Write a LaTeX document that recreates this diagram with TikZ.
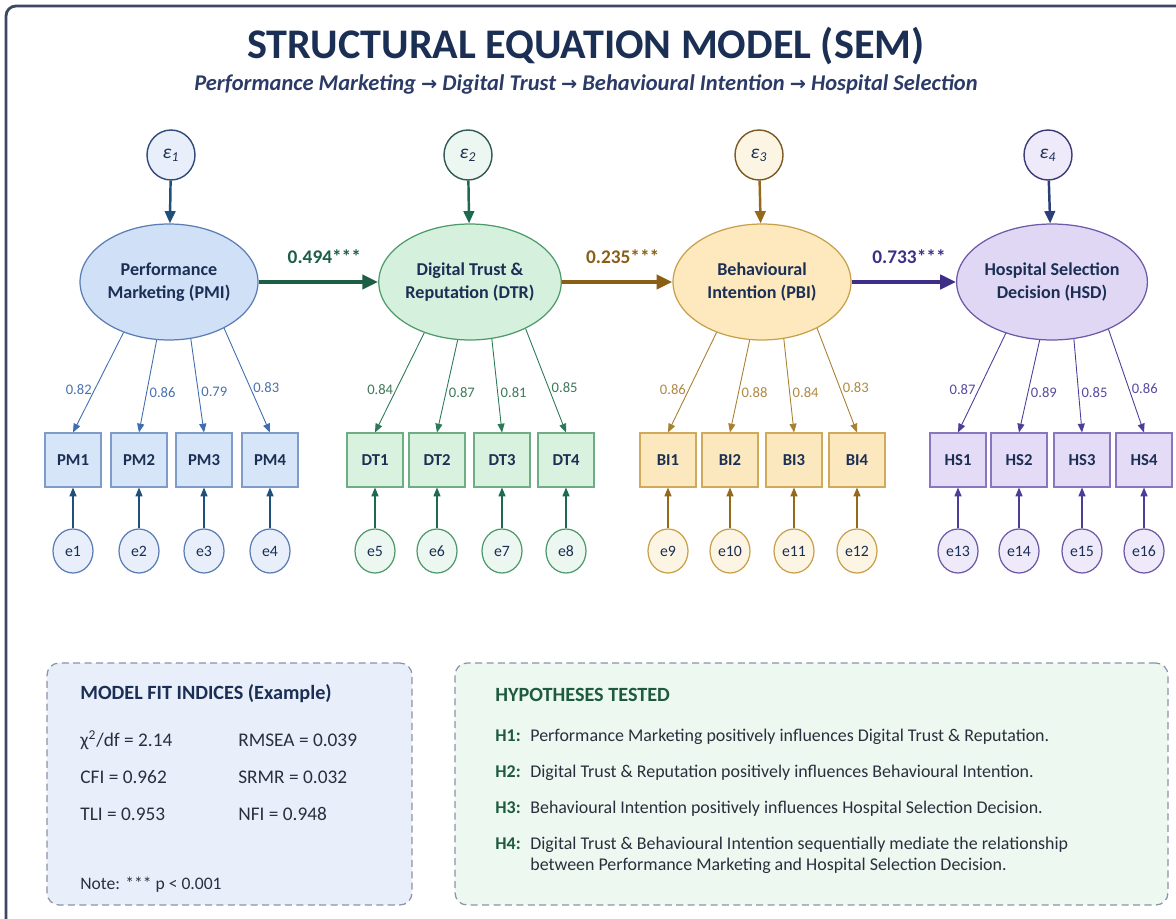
\documentclass[tikz,border=0pt]{standalone}
\usepackage{fontspec}
\setmainfont{Carlito}
\newfontfamily\arrowfont{DejaVu Sans}
\usetikzlibrary{arrows.meta,shapes.geometric}
\definecolor{navy}{HTML}{1B2F55}
\definecolor{subnavy}{HTML}{2B3A66}
\definecolor{frame}{HTML}{3D4663}
\definecolor{txt}{HTML}{2B2F3D}
% blue
\definecolor{bfill}{HTML}{CFE0F7}
\definecolor{bline}{HTML}{5A7DB5}
\definecolor{bbox}{HTML}{D7E5F8}
\definecolor{bboxl}{HTML}{7F9CC9}
\definecolor{barr}{HTML}{1F4F7A}
\definecolor{bload}{HTML}{3F6DB0}
\definecolor{blab}{HTML}{4A72B0}
\definecolor{bdist}{HTML}{2F4A7A}
\definecolor{bdistf}{HTML}{E8EFFA}
% green
\definecolor{gfill}{HTML}{D5F0DC}
\definecolor{gline}{HTML}{4F9A6A}
\definecolor{gbox}{HTML}{D8F2DF}
\definecolor{gboxl}{HTML}{6FAE85}
\definecolor{garr}{HTML}{1D6A50}
\definecolor{gload}{HTML}{2C7A55}
\definecolor{glab}{HTML}{3C7A58}
\definecolor{gstr}{HTML}{1D5E45}
\definecolor{gdist}{HTML}{2F5A55}
\definecolor{gdistf}{HTML}{EDF7F1}
% yellow
\definecolor{yfill}{HTML}{FDE9BD}
\definecolor{yline}{HTML}{C9A04A}
\definecolor{ybox}{HTML}{FCE8BF}
\definecolor{yboxl}{HTML}{D0AA5A}
\definecolor{yarr}{HTML}{94691C}
\definecolor{yload}{HTML}{A88030}
\definecolor{ylab}{HTML}{B08A45}
\definecolor{ystr}{HTML}{8A5E14}
\definecolor{ydist}{HTML}{7A5A20}
\definecolor{ydistf}{HTML}{FDF5E4}
% purple
\definecolor{pfill}{HTML}{E0D7F5}
\definecolor{pline}{HTML}{6E58A8}
\definecolor{pbox}{HTML}{E4DBF6}
\definecolor{pboxl}{HTML}{8A75C0}
\definecolor{parr}{HTML}{2A3F78}
\definecolor{pload}{HTML}{4E3C99}
\definecolor{plab}{HTML}{5A4AA0}
\definecolor{pstr}{HTML}{3E2E88}
\definecolor{pdist}{HTML}{3A3A78}
\definecolor{pdistf}{HTML}{EEEAF9}
% panels
\definecolor{fitfill}{HTML}{E8EFFB}
\definecolor{hypfill}{HTML}{ECF8F0}
\definecolor{dashc}{HTML}{8A93A8}
\definecolor{hgreen}{HTML}{1E5A3E}
\newcommand{\rarr}{{\arrowfont\fontsize{11}{12}\selectfont\char"2192}}
\begin{document}
\begin{tikzpicture}[x=0.02cm,y=-0.02cm,
  lat/.style={ellipse, draw, line width=0.7pt, minimum width=3.56cm, minimum height=2.32cm, inner sep=0pt, align=center, text=navy, font=\bfseries\fontsize{10.3}{13}\selectfont},
  ind/.style={rectangle, draw, line width=0.6pt, minimum width=1.12cm, minimum height=1.08cm, inner sep=0pt, text=navy, font=\bfseries\fontsize{9.5}{11}\selectfont},
  err/.style={ellipse, draw, line width=0.7pt, minimum width=0.8cm, minimum height=0.88cm, inner sep=0pt, text=navy, font=\fontsize{9}{10}\selectfont},
  dist/.style={ellipse, draw, line width=0.8pt, minimum width=0.96cm, minimum height=1.0cm, inner sep=0pt, text=navy, font=\itshape\fontsize{11}{12}\selectfont},
  load/.style={-{Triangle[length=5pt,width=4pt]}, line width=0.5pt},
  ldlab/.style={font=\fontsize{8.3}{9}\selectfont, inner sep=1.5pt},
  struct/.style={-{Triangle[length=9pt,width=8pt]}, line width=2.2pt},
  strlab/.style={font=\bfseries\fontsize{11}{12}\selectfont, above=6pt, pos=0.55},
  distarr/.style={-{Triangle[length=7pt,width=6pt]}, line width=1.4pt},
  errarr/.style={-{Triangle[length=5pt,width=4pt]}, line width=0.7pt},
  panel/.style={draw=dashc, dashed, dash pattern=on 4pt off 2.5pt, line width=0.7pt, rounded corners=0.24cm},
  ftxt/.style={anchor=west, inner sep=0pt, text=txt, font=\fontsize{11}{13}\selectfont},
  htxt/.style={anchor=west, inner sep=0pt, text=txt, align=left, font=\fontsize{10.2}{12}\selectfont}
]
\useasboundingbox (0,0) rectangle (1176,919);
\fill[white] (0,0) rectangle (1176,919);
\begin{scope}
\clip (0,0) rectangle (1176,919);
\draw[frame, line width=1.6pt, rounded corners=0.2cm] (6,6) rectangle (1200,940);
\end{scope}

% titles
\node[text=navy, font=\bfseries\fontsize{24}{28}\selectfont] (title) at (586,46) {STRUCTURAL EQUATION MODEL (SEM)};
\node[text=subnavy, font=\bfseries\itshape\fontsize{12.8}{15}\selectfont] (subtitle) at (586,84) {Performance Marketing \rarr{} Digital Trust \rarr{} Behavioural Intention \rarr{} Hospital Selection};

% ---------- blue group
\node[dist, draw=bdist, fill=bdistf] (z1) at (171,155) {ε\textsubscript{1}};
\node[lat, draw=bline, fill=bfill] (PMI) at (169,282) {Performance\\Marketing (PMI)};
\draw[distarr, barr] (z1) -- (PMI);
\foreach \i/\x in {1/73,2/139,3/204,4/270}{
  \node[ind, draw=bboxl, fill=bbox] (PM\i) at (\x,460) {PM\i};
  \node[err, draw=bline, fill=bdistf] (e\i) at (\x,551) {e\i};
  \draw[errarr, barr] (e\i) -- (PM\i);
}
\foreach \i/\a/\s/\v in {1/228/left/0.82,2/258/right/0.86,3/291/right/0.79,4/320/right/0.83}
  \draw[load, bload] (PMI.\a) -- (PM\i.north) node[pos=0.57, \s, ldlab, text=blab] {\v};

% ---------- green group
\node[dist, draw=gdist, fill=gdistf] (z2) at (468,155) {ε\textsubscript{2}};
\node[lat, draw=gline, fill=gfill] (DTR) at (470,282) {Digital Trust \&\\Reputation (DTR)};
\draw[distarr, garr] (z2) -- (DTR);
\foreach \i/\k/\x in {1/5/375,2/6/437,3/7/502,4/8/566}{
  \node[ind, draw=gboxl, fill=gbox] (DT\i) at (\x,460) {DT\i};
  \node[err, draw=gline, fill=gdistf] (e\k) at (\x,551) {e\k};
  \draw[errarr, garr] (e\k) -- (DT\i);
}
\foreach \i/\a/\s/\v in {1/228/left/0.84,2/258/right/0.87,3/291/right/0.81,4/320/right/0.85}
  \draw[load, gload] (DTR.\a) -- (DT\i.north) node[pos=0.57, \s, ldlab, text=glab] {\v};

% ---------- yellow group
\node[dist, draw=ydist, fill=ydistf] (z3) at (759,155) {ε\textsubscript{3}};
\node[lat, draw=yline, fill=yfill] (PBI) at (762,282) {Behavioural\\Intention (PBI)};
\draw[distarr, yarr] (z3) -- (PBI);
\foreach \i/\k/\x in {1/9/668,2/10/730,3/11/794,4/12/857}{
  \node[ind, draw=yboxl, fill=ybox] (BI\i) at (\x,460) {BI\i};
  \node[err, draw=yline, fill=ydistf] (e\k) at (\x,551) {e\k};
  \draw[errarr, yarr] (e\k) -- (BI\i);
}
\foreach \i/\a/\s/\v in {1/228/left/0.86,2/258/right/0.88,3/291/right/0.84,4/320/right/0.83}
  \draw[load, yload] (PBI.\a) -- (BI\i.north) node[pos=0.57, \s, ldlab, text=ylab] {\v};

% ---------- purple group
\node[dist, draw=pdist, fill=pdistf] (z4) at (1048,155) {ε\textsubscript{4}};
\node[lat, draw=pline, fill=pfill] (HSD) at (1052,282) {Hospital Selection\\Decision (HSD)};
\draw[distarr, parr] (z4) -- (HSD);
\foreach \i/\k/\x in {1/13/958,2/14/1019,3/15/1082,4/16/1144}{
  \node[ind, draw=pboxl, fill=pbox] (HS\i) at (\x,460) {HS\i};
  \node[err, draw=pline, fill=pdistf] (e\k) at (\x,551) {e\k};
  \draw[errarr, pload] (e\k) -- (HS\i);
}
\foreach \i/\a/\s/\v in {1/228/left/0.87,2/258/right/0.89,3/291/right/0.85,4/320/right/0.86}
  \draw[load, pload] (HSD.\a) -- (HS\i.north) node[pos=0.57, \s, ldlab, text=plab] {\v};

% ---------- structural paths
\draw[struct, gstr] (PMI) -- (DTR) node[strlab, text=gstr] {0.494***};
\draw[struct, ystr] (DTR) -- (PBI) node[strlab, text=ystr] {0.235***};
\draw[struct, pstr] (PBI) -- (HSD) node[strlab, text=pstr] {0.733***};

% ---------- model fit panel
\node[panel, fill=fitfill, minimum width=7.3cm, minimum height=4.84cm] (fitpanel) at (229.5,784) {};
\node[anchor=west, inner sep=0pt, text=navy, font=\bfseries\fontsize{11.5}{13}\selectfont] (fittitle) at (80,694) {MODEL FIT INDICES (Example)};
\node[ftxt] (chi) at (80,740) {χ\textsuperscript{2}/df = 2.14};
\node[ftxt] (cfi) at (80,777) {CFI = 0.962};
\node[ftxt] (tli) at (80,814) {TLI = 0.953};
\node[ftxt] (rmsea) at (238,740) {RMSEA = 0.039};
\node[ftxt] (srmr) at (238,777) {SRMR = 0.032};
\node[ftxt] (nfi) at (238,814) {NFI = 0.948};
\node[ftxt, font=\fontsize{10}{12}\selectfont] (note) at (80,885) {Note: *** p < 0.001};

% ---------- hypotheses panel
\node[panel, fill=hypfill, minimum width=14.26cm, minimum height=4.84cm] (hyppanel) at (811.5,784) {};
\node[anchor=west, inner sep=0pt, text=hgreen, font=\bfseries\fontsize{11.5}{13}\selectfont] (hyptitle) at (495,695) {HYPOTHESES TESTED};
\newcommand{\hlab}[1]{\makebox[0.7cm][l]{\textcolor{hgreen}{\bfseries #1}}}
\node[htxt] (h1) at (495,737) {\hlab{H1:}Performance Marketing positively influences Digital Trust \& Reputation.};
\node[htxt] (h2) at (495,773) {\hlab{H2:}Digital Trust \& Reputation positively influences Behavioural Intention.};
\node[htxt] (h3) at (495,809) {\hlab{H3:}Behavioural Intention positively influences Hospital Selection Decision.};
\node[htxt, font=\fontsize{10.2}{12.2}\selectfont] (h4) at (495,855.5) {\hlab{H4:}Digital Trust \& Behavioural Intention sequentially mediate the relationship\\\hphantom{\hlab{H4:}}between Performance Marketing and Hospital Selection Decision.};
\end{tikzpicture}
\end{document}
